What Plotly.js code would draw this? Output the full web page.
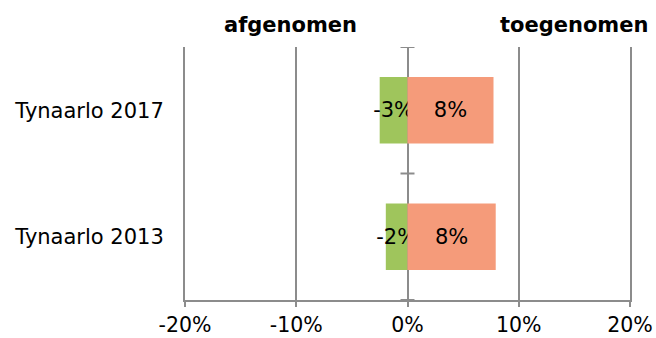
<!DOCTYPE html>
<html>
<head>
<meta charset="utf-8">
<script src="https://cdn.plot.ly/plotly-3.0.1.min.js"></script>
<style>html,body{margin:0;padding:0;background:#fff;}#chart{width:656px;height:338px;}</style>
</head>
<body>
<div id="chart"></div>
<script>
const categories = ['Tynaarlo 2013', 'Tynaarlo 2017'];
const afgenomen = [-1.95, -2.5];
const afgenomenLabels = ['-2%', '-3%'];
const toegenomen = [7.93, 7.73];
const toegenomenLabels = ['8%', '8%'];
const xTickVals = [-20, -10, 0, 10, 20];
const xTickText = ['-20%', '-10%', '0%', '10%', '20%'];

const font = 'DejaVu Sans, Verdana, sans-serif';
const fs = 21;
const gridColor = '#8c8c8c';

const traces = [
  {
    type: 'bar', orientation: 'h', name: 'afgenomen',
    y: categories, x: afgenomen,
    text: afgenomenLabels, textposition: 'inside', insidetextanchor: 'middle',
    textangle: 0, constraintext: 'none', cliponaxis: false,
    textfont: {family: font, size: fs, color: '#000'},
    marker: {color: '#9fc55c'}, hoverinfo: 'skip'
  },
  {
    type: 'bar', orientation: 'h', name: 'toegenomen',
    y: categories, x: toegenomen,
    text: toegenomenLabels, textposition: 'inside', insidetextanchor: 'middle',
    textangle: 0, constraintext: 'none', cliponaxis: false,
    textfont: {family: font, size: fs, color: '#000'},
    marker: {color: '#f59b7a'}, hoverinfo: 'skip'
  }
];

const boundaries = [-0.5, 0.5, 1.5];
const shapes = boundaries.map(b => ({
  type: 'line', xref: 'x', yref: 'y', xsizemode: 'pixel', xanchor: 0,
  x0: -7, x1: 7, y0: b, y1: b,
  line: {color: gridColor, width: 2}
}));

const layout = {
  width: 656, height: 338,
  margin: {l: 185, r: 26, t: 47, b: 38, pad: 0},
  paper_bgcolor: '#fff', plot_bgcolor: '#fff',
  showlegend: false,
  barmode: 'relative', bargap: 0.476,
  font: {family: font, size: fs, color: '#000'},
  xaxis: {
    range: [-20, 20], tickvals: xTickVals, ticktext: xTickText,
    showgrid: true, gridcolor: gridColor, gridwidth: 2,
    zeroline: true, zerolinecolor: gridColor, zerolinewidth: 2,
    showline: true, linecolor: gridColor, linewidth: 2,
    ticks: 'outside', ticklen: 5, tickcolor: gridColor, tickwidth: 2,
    ticklabelstandoff: 0,
    tickfont: {family: font, size: 20.5, color: '#000'},
    layer: 'above traces', fixedrange: true
  },
  yaxis: {
    type: 'category', range: [-0.5, 1.5],
    showgrid: false, zeroline: false,
    showline: true, mirror: true, linecolor: gridColor, linewidth: 2,
    ticks: '',
    ticklabelstandoff: 15,
    tickfont: {family: font, size: fs, color: '#000'},
    fixedrange: true
  },
  shapes: shapes,
  annotations: [
    {text: '<b>afgenomen</b>', xref: 'paper', yref: 'paper', x: 0.236, y: 1.087,
     xanchor: 'center', yanchor: 'middle', showarrow: false,
     font: {family: font, size: fs, color: '#000'}},
    {text: '<b>toegenomen</b>', xref: 'paper', yref: 'paper', x: 1.045, y: 1.087,
     xanchor: 'right', yanchor: 'middle', showarrow: false,
     font: {family: font, size: fs, color: '#000'}}
  ]
};

Plotly.newPlot('chart', traces, layout, {displayModeBar: false, staticPlot: true});
</script>
</body>
</html>
